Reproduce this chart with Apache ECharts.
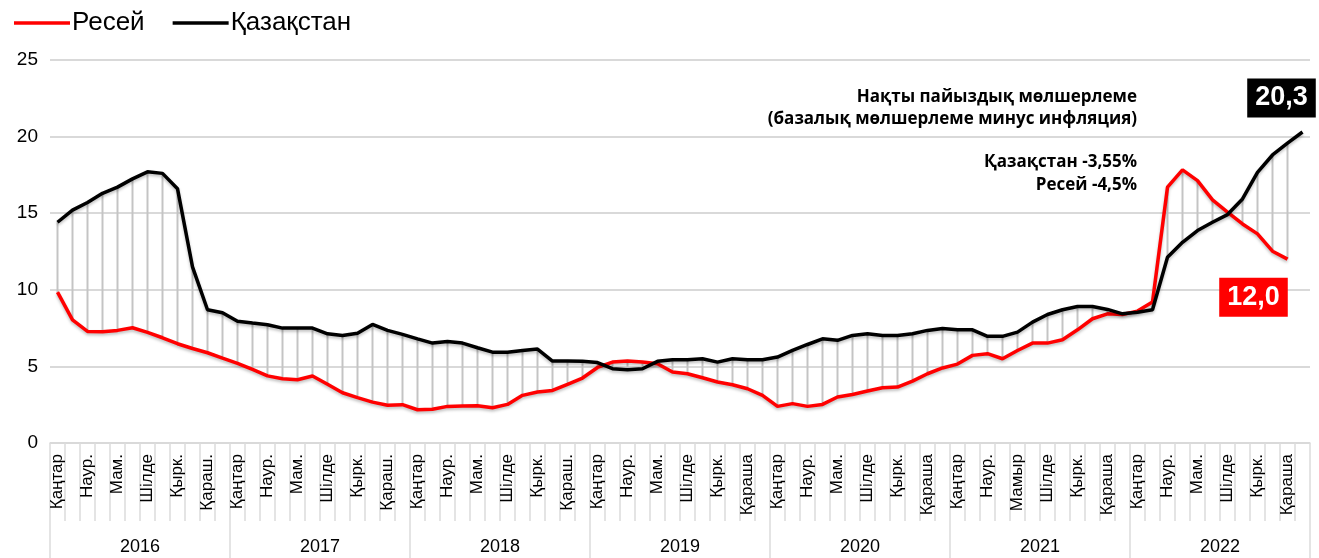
<!DOCTYPE html>
<html>
<head>
<meta charset="utf-8">
<script src="https://cdn.jsdelivr.net/npm/echarts@6/dist/echarts.min.js"></script>
<style>html,body{margin:0;padding:0;background:#fff}#c{width:1319px;height:558px}</style>
</head>
<body>
<div id="c"></div>
<script>
const monthLabels2016 = ['Қаңтар','','Наур.','','Мам.','','Шілде','','Қырк.','','Қараш.',''];
const monthLabels2019 = ['Қаңтар','','Наур.','','Мам.','','Шілде','','Қырк.','','Қараша',''];
const monthLabels2021 = ['Қаңтар','','Наур.','','Мамыр','','Шілде','','Қырк.','','Қараша',''];
const monthLabels2022 = ['Қаңтар','','Наур.','','Мам.','','Шілде','','Қырк.','','Қараша',''];
const years = ['2016','2017','2018','2019','2020','2021','2022'];
const monthLabels = [].concat(monthLabels2016, monthLabels2016, monthLabels2016,
  monthLabels2019, monthLabels2019, monthLabels2021, monthLabels2022);
const categories = monthLabels.map((m, i) => years[Math.floor(i / 12)] + '-' + (i % 12 + 1));
const yTicks = [0, 5, 10, 15, 20, 25];

const russia = [
  9.85, 8.04, 7.28, 7.26, 7.35, 7.52, 7.22, 6.87, 6.48, 6.17, 5.89, 5.54,
  5.2, 4.8, 4.38, 4.2, 4.13, 4.37, 3.83, 3.28, 2.96, 2.67, 2.46, 2.5,
  2.17, 2.2, 2.39, 2.41, 2.43, 2.3, 2.52, 3.11, 3.33, 3.43, 3.83, 4.24,
  4.93, 5.28, 5.35, 5.28, 5.17, 4.63, 4.52, 4.26, 3.98, 3.8, 3.54, 3.11,
  2.39, 2.57, 2.39, 2.52, 3.0, 3.17, 3.39, 3.61, 3.65, 4.04, 4.52, 4.9,
  5.15, 5.72, 5.83, 5.5, 6.04, 6.52, 6.52, 6.74, 7.39, 8.11, 8.43, 8.39,
  8.61, 9.2, 16.7, 17.83, 17.13, 15.87, 15.07, 14.3, 13.65, 12.52, 12.0
];
const kazakhstan = [
  14.41, 15.2, 15.7, 16.3, 16.7, 17.24, 17.7, 17.6, 16.6, 11.5, 8.7, 8.5,
  7.95, 7.83, 7.72, 7.5, 7.5, 7.5, 7.13, 7.02, 7.17, 7.74, 7.35, 7.09,
  6.8, 6.52, 6.63, 6.52, 6.22, 5.93, 5.93, 6.04, 6.13, 5.35, 5.35, 5.33,
  5.25, 4.85, 4.78, 4.85, 5.33, 5.43, 5.43, 5.5, 5.28, 5.5, 5.43, 5.43,
  5.61, 6.04, 6.43, 6.8, 6.7, 7.02, 7.13, 7.02, 7.02, 7.13, 7.35, 7.48,
  7.4, 7.39, 6.96, 6.96, 7.24, 7.89, 8.39, 8.7, 8.91, 8.91, 8.72, 8.43,
  8.54, 8.7, 12.13, 13.1, 13.87, 14.41, 14.91, 15.93, 17.67, 18.8, 19.57, 20.3
];
const seriesNames = ['Ресей', 'Қазақстан'];
const noteTitle = ['Нақты пайыздық мөлшерлеме', '(базалық мөлшерлеме минус инфляция)'];
const noteValues = ['Қазақстан -3,55%', 'Ресей -4,5%'];

const spans = russia.map((r, i) => [i, r, kazakhstan[i]]);
const fmt = v => v.toFixed(1).replace('.', ',');
const lastR = russia.length - 1, lastK = kazakhstan.length - 1;

const chart = echarts.init(document.getElementById('c'), null, {renderer: 'canvas'});
chart.setOption({
  animation: false,
  backgroundColor: '#fff',
  textStyle: {fontFamily: 'Liberation Sans, Arial, sans-serif'},
  legend: {
    left: 9, top: 5,
    itemWidth: 56, itemHeight: 3.5, itemGap: 28,
    icon: 'rect',
    textStyle: {fontSize: 26, color: '#000', fontFamily: 'Liberation Sans', padding: [0, 0, 0, -3]},
    data: seriesNames
  },
  grid: {left: 50, right: 9, top: 60, bottom: 115, containLabel: false},
  xAxis: [{
    type: 'category', data: categories, boundaryGap: true, position: 'bottom',
    axisLine: {show: true, lineStyle: {color: '#d9d9d9', width: 1.5}},
    axisTick: {show: true, interval: 0, length: 78, lineStyle: {color: '#dcdcdc', width: 1.5}},
    axisLabel: {show: true, interval: 0, rotate: 90, fontSize: 17, color: '#000', margin: 11,
      formatter: (v, i) => monthLabels[i]},
    splitLine: {show: false}
  }, {
    type: 'category', data: years, boundaryGap: true, position: 'bottom', offset: 0,
    axisLine: {show: false},
    axisTick: {show: true, interval: 0, length: 115, lineStyle: {color: '#dcdcdc', width: 1.5}},
    axisLabel: {show: true, interval: 0, fontSize: 18, color: '#000', margin: 95},
    splitLine: {show: false}
  }],
  yAxis: {
    type: 'value', min: yTicks[0], max: yTicks[yTicks.length - 1], interval: 5,
    axisLine: {show: false}, axisTick: {show: false},
    axisLabel: {fontSize: 19, color: '#000', margin: 12},
    splitLine: {lineStyle: {color: '#d9d9d9', width: 2}}
  },
  graphic: [{
    type: 'text', right: 182, top: 86,
    style: {text: noteTitle.join('\n'), fill: '#000', font: 'bold 17px "Open Sans"', textAlign: 'right', lineHeight: 22}
  }, {
    type: 'text', right: 182, top: 151,
    style: {text: noteValues.join('\n'), fill: '#000', font: 'bold 17px "Open Sans"', textAlign: 'right', lineHeight: 23}
  }],
  series: [{
    type: 'custom', name: 'spans', z: 1, silent: true,
    data: spans,
    encode: {x: 0, y: [1, 2]},
    renderItem: (params, api) => {
      const a = api.coord([api.value(0), api.value(1)]);
      const b = api.coord([api.value(0), api.value(2)]);
      return {type: 'line', shape: {x1: a[0], y1: a[1], x2: b[0], y2: b[1]},
        style: {stroke: '#c4c4c4', lineWidth: 2}};
    }
  }, {
    type: 'line', name: seriesNames[0], data: russia, z: 3,
    showSymbol: false, symbol: 'none', color: '#ff0000',
    lineStyle: {color: '#ff0000', width: 3.5, shadowColor: 'rgba(0,0,0,0.25)', shadowBlur: 3, shadowOffsetY: 2},
    markPoint: {
      symbol: 'rect', symbolSize: 1, itemStyle: {color: 'rgba(0,0,0,0)'},
      data: [{coord: [lastR, russia[lastR]], value: russia[lastR]}],
      label: {show: true, position: 'inside', offset: [-34, 38], formatter: p => fmt(p.value),
        backgroundColor: '#ff0000', color: '#fff', fontSize: 27, fontWeight: 'bold',
        padding: [7, 8, 5, 8], fontFamily: 'Liberation Sans'}
    }
  }, {
    type: 'line', name: seriesNames[1], data: kazakhstan, z: 4,
    showSymbol: false, symbol: 'none', color: '#000',
    lineStyle: {color: '#000', width: 3.5, shadowColor: 'rgba(0,0,0,0.25)', shadowBlur: 3, shadowOffsetY: 2},
    markPoint: {
      symbol: 'rect', symbolSize: 1, itemStyle: {color: 'rgba(0,0,0,0)'},
      data: [{coord: [lastK, kazakhstan[lastK]], value: kazakhstan[lastK]}],
      label: {show: true, position: 'inside', offset: [-21, -34], formatter: p => fmt(p.value),
        backgroundColor: '#000', color: '#fff', fontSize: 27, fontWeight: 'bold',
        padding: [7, 8, 5, 8], fontFamily: 'Liberation Sans'}
    }
  }]
});
</script>
</body>
</html>
